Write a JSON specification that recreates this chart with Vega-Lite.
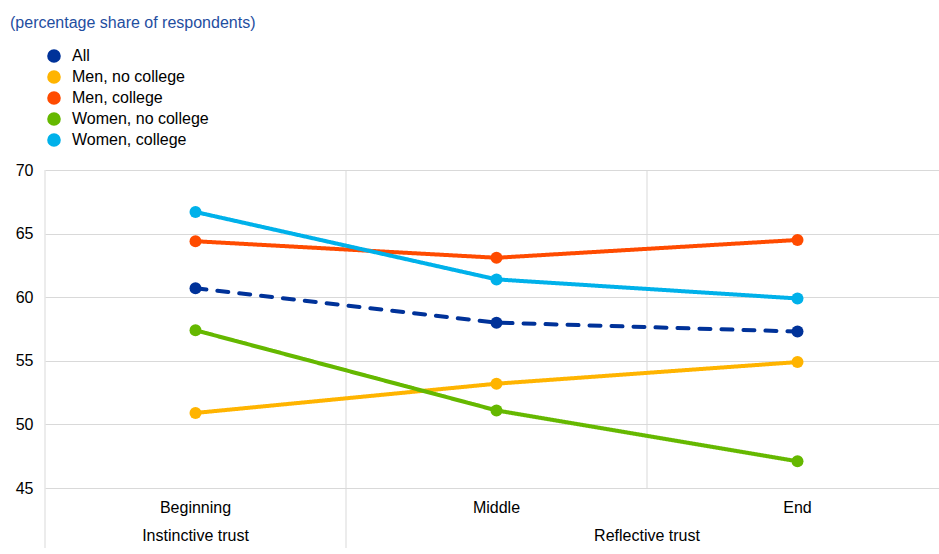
{
  "$schema": "https://vega.github.io/schema/vega-lite/v6.json",
  "autosize": {"type": "none"},
  "padding": {"left": 45, "top": 170, "right": 0, "bottom": 66},
  "width": 894,
  "height": 318,
  "background": "white",
  "title": {
    "text": "(percentage share of respondents)",
    "anchor": "start",
    "frame": "group",
    "orient": "top",
    "offset": 17,
    "dx": -35,
    "font": "Liberation Sans",
    "fontSize": 16,
    "fontWeight": "normal",
    "color": "#1f4e9f"
  },
  "config": {
    "view": {"stroke": null},
    "font": "Liberation Sans"
  },
  "data": {
    "values": [
      {"stage": "Beginning", "series": "All", "value": 60.7},
      {"stage": "Middle", "series": "All", "value": 58.0},
      {"stage": "End", "series": "All", "value": 57.3},
      {"stage": "Beginning", "series": "Men, no college", "value": 50.9},
      {"stage": "Middle", "series": "Men, no college", "value": 53.2},
      {"stage": "End", "series": "Men, no college", "value": 54.9},
      {"stage": "Beginning", "series": "Men, college", "value": 64.4},
      {"stage": "Middle", "series": "Men, college", "value": 63.1},
      {"stage": "End", "series": "Men, college", "value": 64.5},
      {"stage": "Beginning", "series": "Women, no college", "value": 57.4},
      {"stage": "Middle", "series": "Women, no college", "value": 51.1},
      {"stage": "End", "series": "Women, no college", "value": 47.1},
      {"stage": "Beginning", "series": "Women, college", "value": 66.7},
      {"stage": "Middle", "series": "Women, college", "value": 61.4},
      {"stage": "End", "series": "Women, college", "value": 59.9}
    ]
  },
  "encoding": {
    "x": {
      "field": "stage",
      "type": "nominal",
      "sort": ["Beginning", "Middle", "End"],
      "scale": {"domain": ["Beginning", "Middle", "End"], "range": [0, 903], "paddingInner": 0, "paddingOuter": 0},
      "axis": {
        "title": null,
        "domain": false,
        "ticks": false,
        "grid": false,
        "labelAngle": 0,
        "labelPadding": 11,
        "labelFont": "Liberation Sans",
        "labelFontSize": 16,
        "labelColor": "#000000"
      }
    }
  },
  "layer": [
    {
      "data": {"values": [{"stage": "Beginning"}, {"stage": "Middle"}]},
      "mark": {"type": "rule", "color": "#d9d9d9", "strokeWidth": 1},
      "encoding": {
        "x": {"field": "stage", "type": "nominal", "bandPosition": 0},
        "y": {"datum": 40.28, "type": "quantitative"},
        "y2": {"datum": 70}
      }
    },
    {
      "data": {"values": [{"stage": "End"}]},
      "mark": {"type": "rule", "color": "#d9d9d9", "strokeWidth": 1},
      "encoding": {
        "x": {"field": "stage", "type": "nominal", "bandPosition": 0},
        "y": {"datum": 45, "type": "quantitative"},
        "y2": {"datum": 70}
      }
    },
    {
      "mark": {"type": "line", "strokeWidth": 4, "strokeCap": "round"},
      "encoding": {
        "y": {
          "field": "value",
          "type": "quantitative",
          "scale": {"domain": [45, 70], "nice": false, "zero": false},
          "axis": {
            "title": null,
            "values": [45, 50, 55, 60, 65, 70],
            "domain": false,
            "ticks": false,
            "grid": true,
            "gridColor": "#d9d9d9",
            "gridWidth": 1,
            "labelPadding": 12,
            "labelFont": "Liberation Sans",
            "labelFontSize": 16,
            "labelColor": "#000000"
          }
        },
        "color": {
          "field": "series",
          "type": "nominal",
          "scale": {
            "domain": ["All", "Men, no college", "Men, college", "Women, no college", "Women, college"],
            "range": ["#003299", "#ffb400", "#ff4b00", "#65b800", "#00b1ea"]
          },
          "legend": {
            "title": null,
            "orient": "none",
            "legendX": 1,
            "legendY": -122,
            "padding": 0,
            "symbolType": "circle",
            "symbolSize": 185,
            "symbolStrokeWidth": 0,
            "labelOffset": 10,
            "rowPadding": 5,
            "labelFont": "Liberation Sans",
            "labelFontSize": 16,
            "labelColor": "#000000"
          }
        },
        "strokeDash": {
          "field": "series",
          "type": "nominal",
          "scale": {
            "domain": ["All", "Men, no college", "Men, college", "Women, no college", "Women, college"],
            "range": [[11, 11], [1, 0], [1, 0], [1, 0], [1, 0]]
          },
          "legend": null
        }
      }
    },
    {
      "mark": {"type": "point", "filled": true, "opacity": 1, "size": 144, "shape": "circle"},
      "encoding": {
        "y": {"field": "value", "type": "quantitative"},
        "color": {"field": "series", "type": "nominal"}
      }
    },
    {
      "data": {"values": [{"stage": "Beginning", "group": "Instinctive trust"}]},
      "mark": {"type": "text", "font": "Liberation Sans", "fontSize": 16, "color": "#000000", "baseline": "middle", "align": "center"},
      "encoding": {
        "x": {"field": "stage", "type": "nominal", "bandPosition": 0.5},
        "y": {"datum": 41.23, "type": "quantitative"},
        "text": {"field": "group"}
      }
    },
    {
      "data": {"values": [{"stage": "End", "group": "Reflective trust"}]},
      "mark": {"type": "text", "font": "Liberation Sans", "fontSize": 16, "color": "#000000", "baseline": "middle", "align": "center"},
      "encoding": {
        "x": {"field": "stage", "type": "nominal", "bandPosition": 0},
        "y": {"datum": 41.23, "type": "quantitative"},
        "text": {"field": "group"}
      }
    }
  ]
}
